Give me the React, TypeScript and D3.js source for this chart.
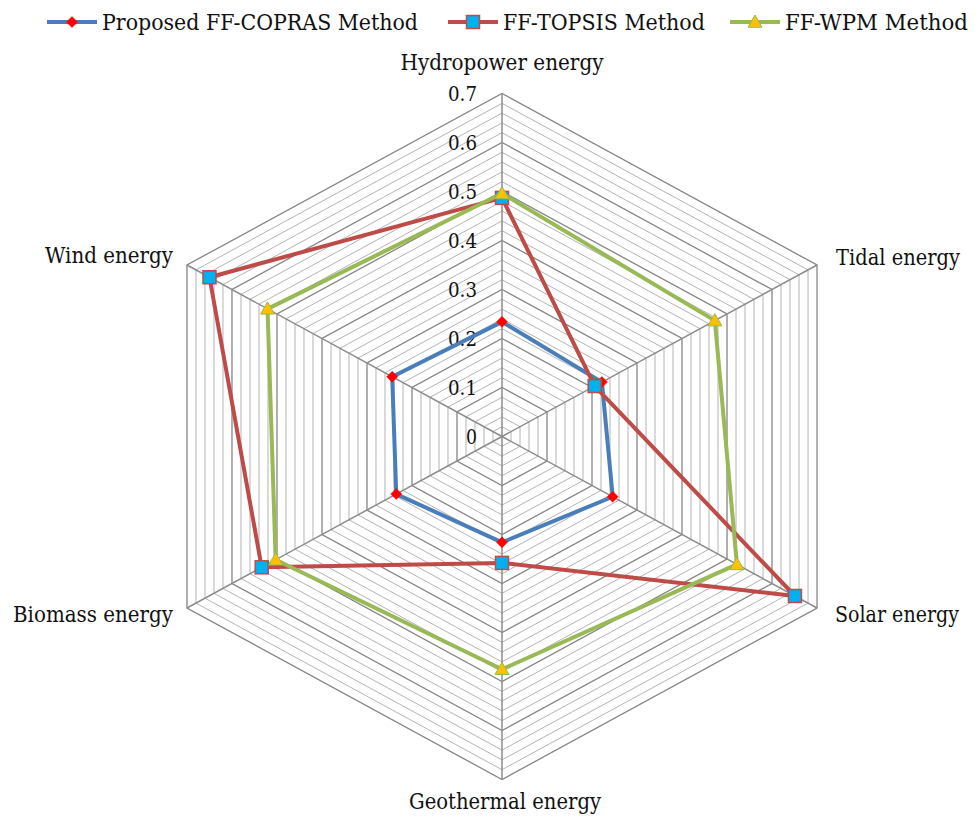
import React from "react";
import * as d3 from "d3";

const categories = ["Hydropower energy", "Tidal energy", "Solar energy", "Geothermal energy", "Biomass energy", "Wind energy"];
const seriesNames = ["Proposed FF-COPRAS Method", "FF-TOPSIS Method", "FF-WPM Method"];
const coprasValues = [0.234, 0.222, 0.246, 0.216, 0.235, 0.244];
const topsisValues = [0.487, 0.206, 0.651, 0.258, 0.534, 0.65];
const wpmValues = [0.496, 0.473, 0.522, 0.475, 0.503, 0.521];
const tickLabels = ["0", "0.1", "0.2", "0.3", "0.4", "0.5", "0.6", "0.7"];

const W = 978, H = 818;
const cx = 502, cy = 436.5;
const R = 343;
const kx = 1.0605;
const FONT = "'DejaVu Serif', serif";

export default function App() {
  const r = d3.scaleLinear().domain([0, 0.7]).range([0, R]);
  const angle = d3.scaleLinear().domain([0, categories.length]).range([-Math.PI / 2, (3 * Math.PI) / 2]);
  const pt = (i: number, v: number): [number, number] => {
    const a = angle(i);
    return [cx + r(v) * Math.cos(a) * kx, cy + r(v) * Math.sin(a)];
  };
  const ringVals = d3.range(0, 36).map((k) => +(k * 0.02).toFixed(2));
  const ringLine = d3.line<[number, number]>().curve(d3.curveLinearClosed);
  const series = [
    { name: seriesNames[0], values: coprasValues, color: "#4A7EBB", marker: "diamond" },
    { name: seriesNames[1], values: topsisValues, color: "#BE4B48", marker: "square" },
    { name: seriesNames[2], values: wpmValues, color: "#98B954", marker: "triangle" },
  ];
  const marker = (type: string, x: number, y: number, key: string) => {
    if (type === "diamond") {
      const s = 5.5;
      return <path key={key} d={`M${x},${y - s}L${x + s},${y}L${x},${y + s}L${x - s},${y}Z`} fill="#FF0000" stroke="#FF0000" strokeWidth={0.5} />;
    }
    if (type === "square") {
      const s = 6.5;
      return <rect key={key} x={x - s} y={y - s} width={2 * s} height={2 * s} fill="#00B0F0" stroke="#BE4B48" strokeWidth={1.5} />;
    }
    const s = 7;
    return <path key={key} d={`M${x},${y - s}L${x + s},${y + s * 0.75}L${x - s},${y + s * 0.75}Z`} fill="#FFC000" stroke="#98B954" strokeWidth={1} />;
  };
  const labelPos = [
    { x: 502, y: 70, anchor: "middle", w: 203 },
    { x: 836, y: 265, anchor: "start", w: 124 },
    { x: 835, y: 622, anchor: "start", w: 124 },
    { x: 505, y: 809, anchor: "middle", w: 192 },
    { x: 173, y: 622, anchor: "end", w: 160 },
    { x: 173, y: 263, anchor: "end", w: 128 },
  ];
  const legendX = [47, 448, 730];
  const legendW = [316, 202, 183];
  const ts = { fontFamily: FONT } as React.CSSProperties;
  return (
    <svg width={W} height={H} style={{ position: "absolute", left: 0, top: 0, background: "#fff", fontFamily: FONT }}>
      <rect width={W} height={H} fill="#fff" />
      {ringVals.filter((v) => v > 0).map((v, k) => {
        const major = Math.abs(v * 10 - Math.round(v * 10)) < 1e-6;
        const pts = categories.map((_, i) => pt(i, v));
        return <path key={"ring" + k} d={ringLine(pts) || ""} fill="none" stroke={major ? "#868686" : "#B4B4B4"} strokeWidth={major ? 1.3 : 1} />;
      })}
      {categories.map((_, i) => {
        const [x, y] = pt(i, 0.7);
        return <line key={"sp" + i} x1={cx} y1={cy} x2={x} y2={y} stroke="#8C8C8C" strokeWidth={1.5} />;
      })}
      {tickLabels.map((t, k) => (
        <text key={"tk" + k} style={ts} x={477} y={cy - r(k * 0.1)} dy="0.36em" textAnchor="end" fontSize={20} fill="#111"
          textLength={t.length > 1 ? 29 : 11} lengthAdjust="spacingAndGlyphs">{t}</text>
      ))}
      {series.map((s, si) => {
        const pts = s.values.map((v, i) => pt(i, v));
        return (
          <g key={"s" + si}>
            <path d={ringLine(pts) || ""} fill="none" stroke={s.color} strokeWidth={4} strokeLinejoin="round" />
            {pts.map(([x, y], i) => marker(s.marker, x, y, `m${si}-${i}`))}
          </g>
        );
      })}
      {categories.map((c, i) => (
        <text key={"lab" + i} style={ts} x={labelPos[i].x} y={labelPos[i].y} textAnchor={labelPos[i].anchor as any} fontSize={23} fill="#111"
          textLength={labelPos[i].w} lengthAdjust="spacingAndGlyphs">{c}</text>
      ))}
      {series.map((s, si) => (
        <g key={"lg" + si}>
          <line x1={legendX[si]} x2={legendX[si] + 50} y1={22} y2={22} stroke={s.color} strokeWidth={4} />
          {marker(s.marker, legendX[si] + 25, 22, "lgm" + si)}
          <text style={ts} x={legendX[si] + 55} y={30} fontSize={23} fill="#111" textLength={legendW[si]} lengthAdjust="spacingAndGlyphs">{s.name}</text>
        </g>
      ))}
    </svg>
  );
}
